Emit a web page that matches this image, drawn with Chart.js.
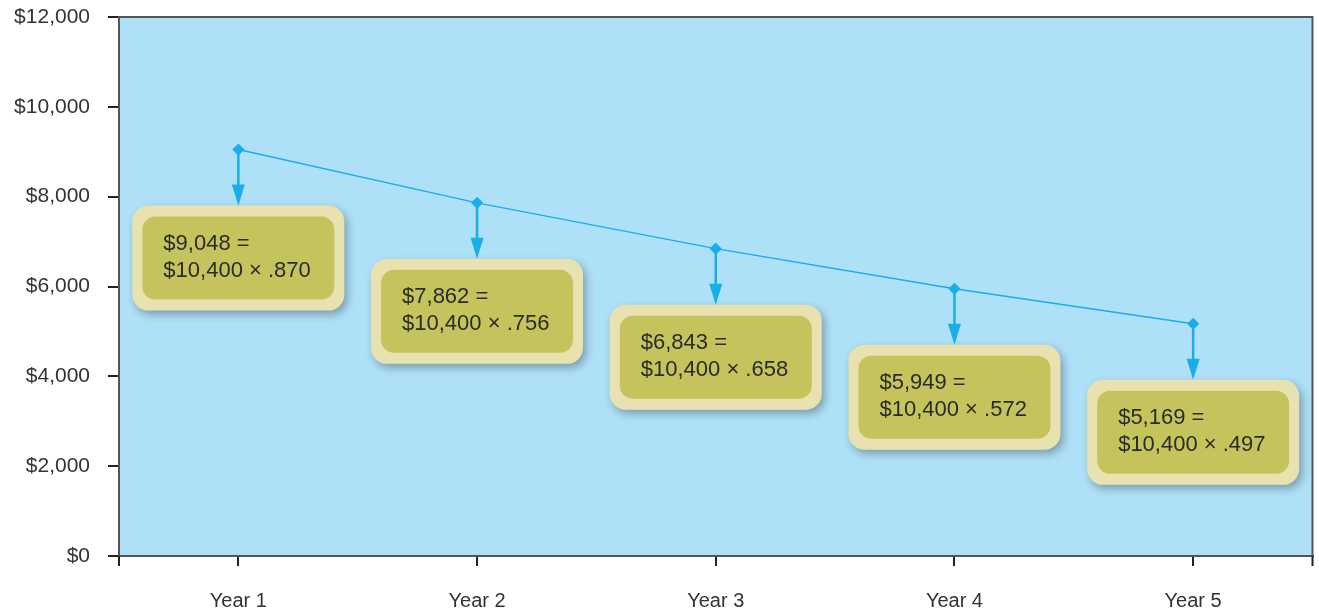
<!DOCTYPE html>
<html>
<head>
<meta charset="utf-8">
<script src="https://cdn.jsdelivr.net/npm/chart.js@4/dist/chart.umd.min.js"></script>
<style>
  html, body { margin: 0; background: #fff; }
  #wrap { width: 1319px; height: 611px; }
</style>
</head>
<body>
<div id="wrap"><canvas id="chart"></canvas></div>
<script>
const years = ['Year 1', 'Year 2', 'Year 3', 'Year 4', 'Year 5'];
const values = [9048, 7862, 6843, 5949, 5169];
const factors = ['.870', '.756', '.658', '.572', '.497'];
const cost = '$10,400';
const yMax = 12000;
const yStep = 2000;

const money = v => '$' + v.toLocaleString('en-US');

// plot background, frame, edge ticks, arrows and callout boxes
const decor = {
  id: 'decor',
  beforeDraw(chart) {
    const { ctx, chartArea: a } = chart;
    ctx.save();
    ctx.fillStyle = '#aee0f7';
    ctx.fillRect(a.left, a.top, a.right - a.left, a.bottom - a.top);
    ctx.restore();
  },
  afterDraw(chart) {
    const { ctx, chartArea: a } = chart;
    ctx.save();
    ctx.strokeStyle = '#555';
    ctx.lineWidth = 2;
    ctx.beginPath();
    ctx.moveTo(a.left, a.top);
    ctx.lineTo(a.right, a.top);
    ctx.lineTo(a.right, a.bottom);
    ctx.stroke();
    ctx.strokeStyle = '#222';
    ctx.beginPath();
    ctx.moveTo(a.left, a.bottom); ctx.lineTo(a.left, a.bottom + 10);
    ctx.moveTo(a.right, a.bottom); ctx.lineTo(a.right, a.bottom + 10);
    ctx.stroke();

    const pts = chart.getDatasetMeta(0).data;
    pts.forEach((p, i) => {
      const x = p.x, y = p.y;
      const top = y + 56;
      // arrow
      ctx.strokeStyle = '#1aaee9';
      ctx.fillStyle = '#1aaee9';
      ctx.lineWidth = 2.5;
      ctx.beginPath();
      ctx.moveTo(x, y);
      ctx.lineTo(x, top - 18);
      ctx.stroke();
      ctx.beginPath();
      ctx.moveTo(x - 6.5, top - 21);
      ctx.lineTo(x + 6.5, top - 21);
      ctx.lineTo(x, top);
      ctx.closePath();
      ctx.fill();

      // box
      ctx.save();
      ctx.shadowColor = 'rgba(0,0,0,0.3)';
      ctx.shadowBlur = 8;
      ctx.shadowOffsetX = 3;
      ctx.shadowOffsetY = 4;
      ctx.fillStyle = '#e8e2b1';
      ctx.beginPath();
      ctx.roundRect(x - 106, top, 212, 105, 16);
      ctx.fill();
      ctx.restore();
      ctx.fillStyle = '#c5c45c';
      ctx.beginPath();
      ctx.roundRect(x - 96, top + 11, 192, 83, 13);
      ctx.fill();

      ctx.fillStyle = '#2b2b2b';
      ctx.font = '22px "Liberation Sans", Arial, sans-serif';
      ctx.textBaseline = 'middle';
      ctx.textAlign = 'left';
      ctx.fillText(money(values[i]) + ' =', x - 75, top + 38);
      ctx.fillText(cost + ' \u00d7 ' + factors[i], x - 75, top + 65);
    });
    ctx.restore();
  }
};

new Chart(document.getElementById('chart'), {
  type: 'line',
  data: {
    labels: years,
    datasets: [{
      data: values,
      borderColor: '#1aaee9',
      backgroundColor: '#1aaee9',
      borderWidth: 1.5,
      pointStyle: 'rectRot',
      pointRadius: 5,
      tension: 0
    }]
  },
  options: {
    responsive: true,
    maintainAspectRatio: false,
    animation: false,
    layout: { padding: { top: 17, right: 3, left: 0, bottom: 0 } },
    plugins: { legend: { display: false }, tooltip: { enabled: false } },
    scales: {
      x: {
        offset: true,
        afterFit: s => { s.height = 55; s.paddingLeft = 0; s.paddingRight = 0; },
        grid: { offset: false, drawOnChartArea: false, tickLength: 10, color: '#222', lineWidth: 2 },
        border: { color: '#555', width: 2 },
        ticks: { color: '#333', padding: 23, font: { family: '"Liberation Sans", Arial', size: 20 } }
      },
      y: {
        min: 0,
        max: yMax,
        afterFit: s => { s.width = 119; s.paddingTop = 0; s.paddingBottom = 0; },
        grid: { drawOnChartArea: false, tickLength: 11, color: '#222', lineWidth: 2 },
        border: { color: '#555', width: 2 },
        ticks: {
          stepSize: yStep,
          color: '#333',
          padding: 18,
          font: { family: '"Liberation Sans", Arial', size: 21 },
          callback: v => money(v)
        }
      }
    }
  },
  plugins: [decor]
});
</script>
</body>
</html>
